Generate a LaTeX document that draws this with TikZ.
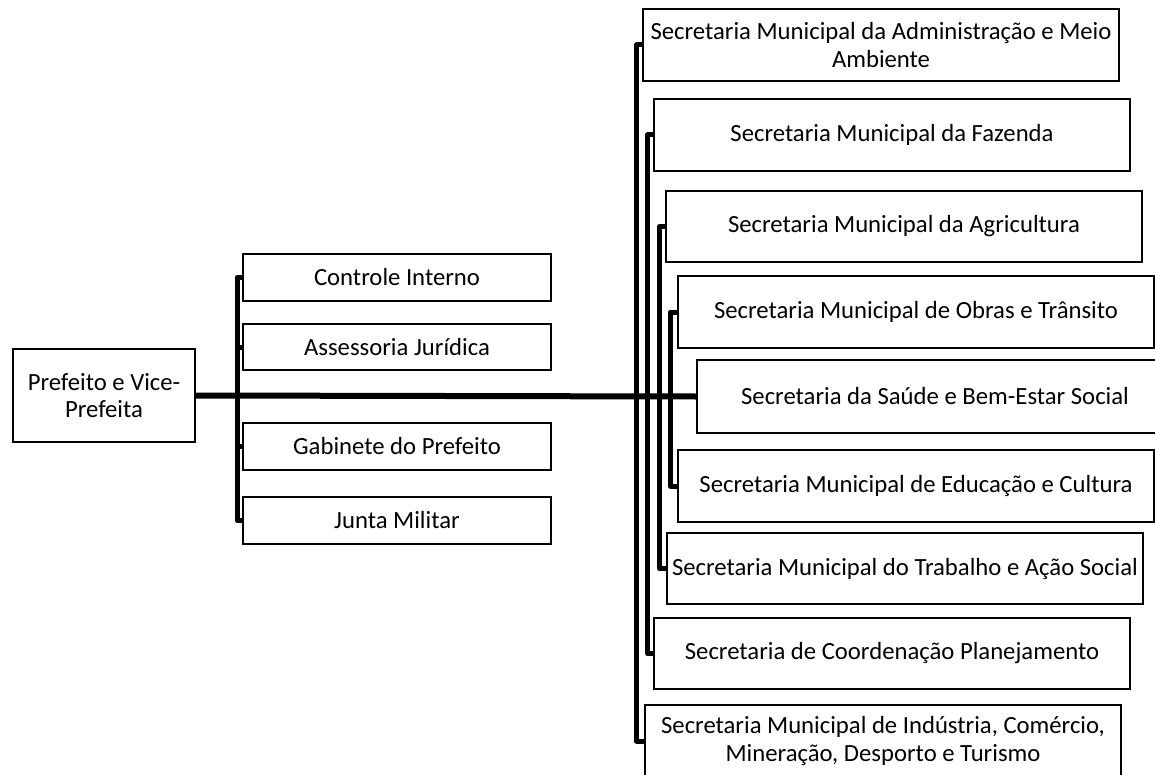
\documentclass[tikz,border=0pt]{standalone}
\usepackage{fontspec}
\setmainfont{Carlito}
\begin{document}
\begin{tikzpicture}[x=1pt,y=-1pt,
  box/.style={draw=black,line width=2pt,fill=white,anchor=north west,
    inner sep=0pt,align=center,font=\fontsize{24.7}{27.5}\selectfont},
  rbox/.style={box,minimum width=476pt,minimum height=72pt},
  lbox/.style={box,minimum width=308pt,minimum height=47pt},
  conn/.style={draw=black,line width=5pt,line join=round},
  mainline/.style={draw=black,line width=6pt}]
\useasboundingbox (0,0) rectangle (1155,775);
% left
\node[box,minimum width=182pt,minimum height=93pt] (pref) at (12,348) {Prefeito e Vice-\\Prefeita};
\node[lbox] (ci) at (242,253) {Controle Interno};
\node[lbox,minimum height=46pt] (aj) at (242,323) {Assessoria Jurídica};
\node[lbox] (gp) at (242,422) {Gabinete do Prefeito};
\node[lbox] (jm) at (242,496) {Junta Militar};
% right
\node[rbox] (b1) at (642,8) {Secretaria Municipal da Administração e Meio\\Ambiente};
\node[rbox] (b2) at (653,98) {Secretaria Municipal da Fazenda};
\node[rbox,minimum height=71pt] (b3) at (665,190) {Secretaria Municipal da Agricultura};
\node[rbox] (b4) at (677,275) {Secretaria Municipal de Obras e Trânsito};
\node[rbox,minimum height=73pt] (b5) at (696,359) {Secretaria da Saúde e Bem-Estar Social};
\node[rbox] (b6) at (677,449) {Secretaria Municipal de Educação e Cultura};
\node[rbox,minimum height=71pt] (b7) at (666,532) {Secretaria Municipal do Trabalho e Ação Social};
\node[rbox,minimum height=71pt] (b8) at (653,617) {Secretaria de Coordenação Planejamento};
\node[rbox] (b9) at (644,704) {Secretaria Municipal de Indústria, Comércio,\\Mineração, Desporto e Turismo};
% bus coordinates
\coordinate (lb) at (237,0);
\coordinate (r1) at (636.5,0);
\coordinate (r2) at (647.5,0);
\coordinate (r3) at (659.5,0);
\coordinate (r4) at (670.5,0);
% left connectors
\draw[conn] (ci.west) -- (ci.west -| lb) -- (jm.west -| lb) -- (jm.west);
\draw[conn] (aj.west) -- (aj.west -| lb);
\draw[conn] (gp.west) -- (gp.west -| lb);
% right connectors
\draw[conn] (b1.west) -- (b1.west -| r1) -- (b9.west -| r1) -- (b9.west);
\draw[conn] (b2.west) -- (b2.west -| r2) -- (b8.west -| r2) -- (b8.west);
\draw[conn] (b3.west) -- (b3.west -| r3) -- (b7.west -| r3) -- (b7.west);
\draw[conn] (b4.west) -- (b4.west -| r4) -- (b6.west -| r4) -- (b6.west);
% main line
\draw[mainline] (pref.east) -- (b5.west);
\end{tikzpicture}
\end{document}
